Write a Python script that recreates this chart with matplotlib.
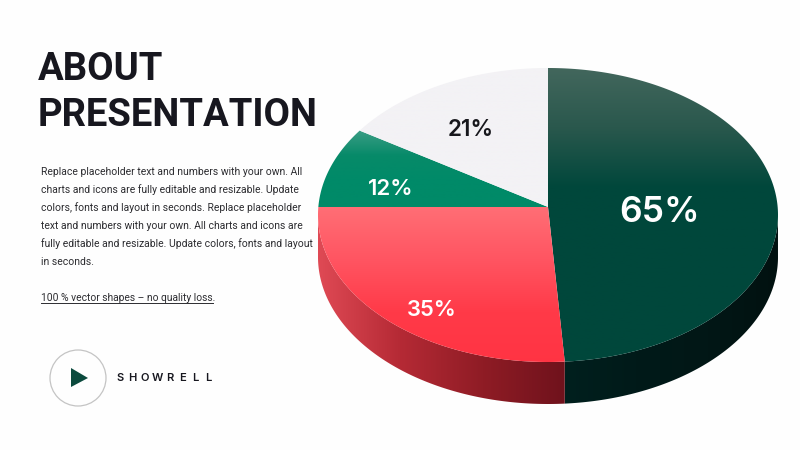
#!/usr/bin/env python3

# imports
import numpy as np
import matplotlib
matplotlib.use('Agg')
import matplotlib.pyplot as plt
from matplotlib.colors import LinearSegmentedColormap
from matplotlib.patches import Circle, Polygon

# chart data, shares are what the slices measure on the picture
slice_labels = ['65%', '35%', '12%', '21%']
slice_shares = [48.9, 26.1, 9.0, 16.0]
label_pos = [(660, 212), (432, 310), (391, 189), (471, 130)]
label_sizes = [25.5, 15.8, 16, 16.2]

title_lines = ['ABOUT', 'PRESENTATION']
body_lines = [
    'Replace placeholder text and numbers with your own. All',
    'charts and icons are fully editable and resizable. Update',
    'colors, fonts and layout in seconds. Replace placeholder',
    'text and numbers with your own. All charts and icons are',
    'fully editable and resizable. Update colors, fonts and layout',
    'in seconds.',
]
note = '100 % vector shapes \u2013 no quality loss.'
brand = 'SHOWRELL'

# pie geometry in pixels
cx, cy, rx, ry = 548, 215, 230, 147
vx, vy = 548, 207
depth = 42

plt.rcParams['font.family'] = ['Roboto', 'DejaVu Sans']
fig = plt.figure(figsize=(8, 4.5), dpi=100, facecolor='#fefefe')
ax = fig.add_axes([0, 0, 1, 1])
ax.set_xlim(0, 800)
ax.set_ylim(450, 0)
ax.axis('off')


# point on the ellipse seen from the vertex, going along angle a (degrees)
def rim(a):
    a = np.radians(a)
    dx, dy = np.cos(a), -np.sin(a)
    ox, oy = (vx - cx) / rx, (vy - cy) / ry
    b = ox * dx + oy * dy
    s = -b + np.sqrt(b * b - (ox * ox + oy * oy - 1))
    return cx + rx * (ox + s * dx), cy + ry * (oy + s * dy)


def gradient(patch, colors, extent, horizontal=False):
    cmap = LinearSegmentedColormap.from_list('g', colors)
    g = np.linspace(0, 1, 256)
    g = g.reshape(1, -1) if horizontal else g.reshape(-1, 1)
    patch.set_facecolor('none')
    ax.add_patch(patch)
    im = ax.imshow(g, cmap=cmap, extent=extent, aspect='auto', zorder=patch.get_zorder())
    im.set_clip_path(patch)
    ax.set_xlim(0, 800)
    ax.set_ylim(450, 0)


# slices go clockwise from 12 o'clock
edges = 90 - np.cumsum([0] + slice_shares) * 3.6
top_grads = [
    (['#43675d', '#2a584d', '#00473b', '#00473b', '#00473b', '#00473b'], (310, 790, 370, 66)),
    (['#ff6f76', '#ff5562', '#ff3a48', '#ff3343'], (310, 790, 366, 205)),
    (['#3f9f87', '#078a69', '#008a68', '#008a68'], (310, 790, 210, 128)),
    (['#f3f2f5', '#f3f2f5'], (310, 790, 210, 60)),
]
side_grads = [
    ['#00201e', '#001a19', '#021716', '#011110'],
    ['#e04a55', '#b52a35', '#8f1c25', '#6f121c'],
    None,
    None,
]

for i in range(len(slice_shares)):
    angs = np.linspace(edges[i], edges[i + 1], 200)
    arc = np.array([rim(a) for a in angs])

    # side wall below the visible part of the rim
    if side_grads[i] is not None:
        low = arc[arc[:, 1] >= cy]
        wall = np.vstack([low, (low + [0, depth])[::-1]])
        x0, x1 = low[:, 0].min(), low[:, 0].max()
        gradient(Polygon(wall, closed=True, lw=0, zorder=2), side_grads[i],
                 (x0 - 1, x1 + 1, 420, 200), horizontal=True)

    # top face
    face = np.vstack([[vx, vy], arc])
    colors, extent = top_grads[i]
    gradient(Polygon(face, closed=True, lw=0, zorder=3), colors, extent)

for i, lab in enumerate(slice_labels):
    col = '#17171c' if i == 3 else 'white'
    ax.text(label_pos[i][0], label_pos[i][1], lab, color=col, fontsize=label_sizes[i],
            family=['Inter', 'DejaVu Sans'], fontweight='semibold',
            ha='center', va='center', zorder=5)

# left column text
for y, line in zip([80, 126], title_lines):
    ax.text(38, y, line, fontsize=27.5, fontweight='bold', color='#17171f', va='baseline')

for i, line in enumerate(body_lines):
    ax.text(41, 175 + i * 18, line, fontsize=7.45, color='#2c2c30', va='baseline')
ax.text(41, 301, note, fontsize=7.4, color='#2c2c30', va='baseline')
ax.plot([41, 213], [303, 303], color='#2c2c30', lw=0.7)

# logo
ax.add_patch(Circle((78, 378), 28, fc='none', ec='#c4c4c4', lw=0.9))
ax.add_patch(Polygon([(71, 368), (71, 387), (88, 378)], closed=True, fc='#0b4a3d', lw=0))
for x, ch in zip(np.linspace(120, 208, len(brand)), brand):
    ax.text(x, 378, ch, fontsize=8, fontweight='semibold', color='#17171f', ha='center', va='center',
            family=['Inter', 'DejaVu Sans'])

# Save plot as PNG file
fig.savefig('out.png', dpi=100)
